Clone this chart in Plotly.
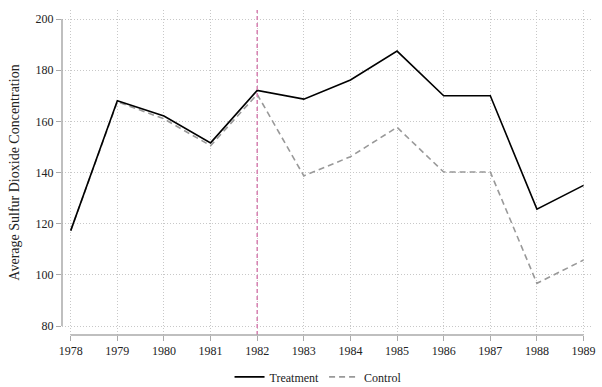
import plotly.graph_objects as go

years = [1978, 1979, 1980, 1981, 1982, 1983, 1984, 1985, 1986, 1987, 1988, 1989]
treatment = [117.3, 168.1, 162.1, 151.6, 172.1, 168.7, 176.2, 187.5, 170.0, 170.0, 125.7, 135.0]
control = [117.3, 167.7, 161.0, 150.5, 170.6, 138.7, 146.2, 157.7, 140.2, 140.2, 96.7, 105.8]
y_ticks = [80, 100, 120, 140, 160, 180, 200]
treat_year = 1982

serif = "Liberation Serif"
axis_gray = "#aaaaaa"
txt = "#222222"

fig = go.Figure()
fig.add_trace(go.Scatter(x=years, y=control, mode="lines", name="Control",
                         line=dict(color="#999999", width=1.6, dash="6px,4px")))
fig.add_trace(go.Scatter(x=years, y=treatment, mode="lines", name="Treatment",
                         line=dict(color="black", width=1.6)))

# treatment start line
fig.add_shape(type="line", xref="x", yref="paper", x0=treat_year, x1=treat_year, y0=0, y1=1,
              line=dict(color="#d67fb0", width=1.5, dash="4px,3px"))
# Stata-style axis lines spanning tick range
fig.add_shape(type="line", xref="paper", yref="y", x0=0, x1=0, y0=min(y_ticks), y1=max(y_ticks),
              line=dict(color=axis_gray, width=1.5))
fig.add_shape(type="line", xref="x", yref="paper", x0=min(years), x1=max(years), y0=0, y1=0,
              line=dict(color=axis_gray, width=1.5))

fig.update_layout(
    width=602, height=387,
    margin=dict(l=62, r=11, t=10, b=52, autoexpand=False),
    paper_bgcolor="white", plot_bgcolor="white",
    font=dict(family=serif, size=12, color=txt),
    showlegend=True,
    legend=dict(orientation="h", x=0.484, xanchor="center", y=-0.129, yanchor="middle",
                traceorder="reversed", font=dict(family=serif, size=12, color=txt),
                bgcolor="rgba(0,0,0,0)"),
    xaxis=dict(range=[1977.813, 1989.16], tickvals=years, ticktext=[str(y) for y in years],
               showgrid=True, gridcolor="#c8c8c8", griddash="1px,2px", gridwidth=1,
               zeroline=False, showline=False, ticks="outside", ticklen=5, tickcolor=axis_gray,
               tickwidth=1.2, automargin=False, ticklabeloverflow="allow",
               tickfont=dict(family=serif, size=12, color=txt)),
    yaxis=dict(range=[76.5, 203.55], tickvals=y_ticks,
               showgrid=True, gridcolor="#c8c8c8", griddash="1px,2px", gridwidth=1,
               zeroline=False, showline=False, ticks="outside", ticklen=5, tickcolor=axis_gray,
               tickwidth=1.2, automargin=False, ticklabeloverflow="allow",
               tickfont=dict(family=serif, size=12, color=txt),
               title=dict(text="Average Sulfur Dioxide Concentration",
                          font=dict(family=serif, size=14, color=txt), standoff=12)),
)

# remove the default 8px body margin so the figure fills the window exactly
fig.write_html("out.html",
               config={"displayModeBar": False},
               post_script="document.body.style.margin='0';document.body.style.overflow='hidden';")
